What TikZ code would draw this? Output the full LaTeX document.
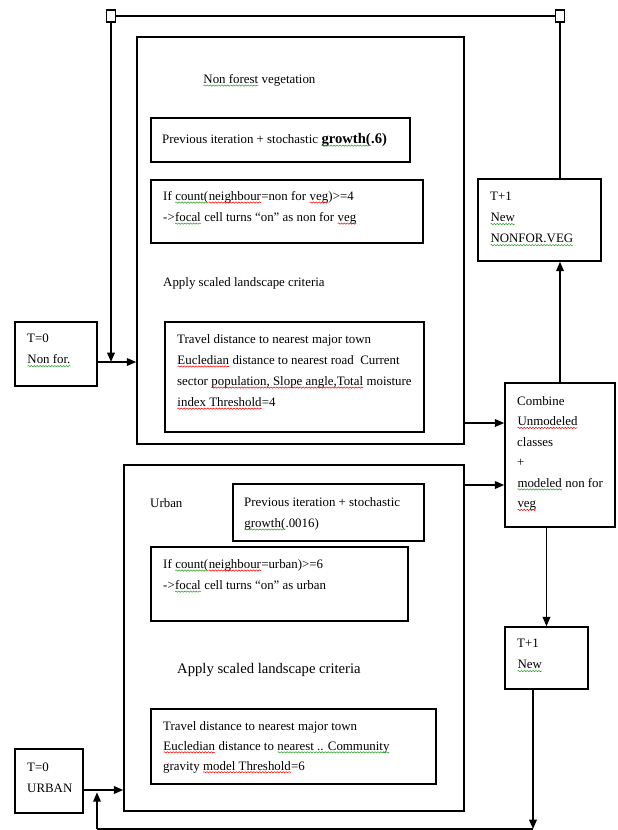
\documentclass[tikz,border=0pt]{standalone}
\usepackage{fontspec}
\setmainfont{Liberation Serif}
\usetikzlibrary{arrows.meta,fit,decorations.pathmorphing}

\definecolor{grn}{RGB}{40,160,40}

\tikzset{
  box/.style={draw, line width=1.3pt, inner sep=0pt},
  handle/.style={draw, fill=white, line width=1pt, minimum width=0.27cm, minimum height=0.36cm, inner sep=0pt},
  txt/.style={inner sep=0pt, anchor=north west, align=left, font=\fontsize{11}{18}\selectfont},
  link/.style={line width=1.3pt},
  arr/.style={line width=1.3pt, -{Triangle[length=8pt,width=6.5pt]}},
}

% spell-check squiggle under a word
\newcommand{\sqg}[2]{\tikz[baseline=(w.base)]{\node[inner sep=0pt, outer sep=0pt, anchor=base, align=none, font=] (w) {#2};
  \draw[#1, line width=0.45pt, decorate, decoration={snake, amplitude=0.55pt, segment length=2.5pt}] ([yshift=-1.9pt]w.base west) -- ([yshift=-1.9pt]w.base east);}}

\begin{document}
\begin{tikzpicture}[x=0.03cm, y=-0.03cm]
  \useasboundingbox (0,0) rectangle (618,830);

  % Non forest vegetation
  \node[box, fit={(137,37) (464,444)}] (veg) {};
  \node[txt] (vegname) at (203,74) {\sqg{grn}{Non forest} vegetation};
  \node[box, fit={(151,118) (410,162)}] (veggrow) {};
  \node[txt, anchor=west] (veggrowtxt) at (162,140) {Previous iteration + stochastic {\fontsize{12.5}{14}\selectfont\bfseries\sqg{grn}{growth(}.6)}};
  \node[box, fit={(151,180) (423,243)}] (vegrule) {};
  \node[txt] (vegruletxt) at (163,191) {If \sqg{grn}{count(}\sqg{red}{neighbour}=non for \sqg{red}{veg})>=4\\
    ->\sqg{grn}{focal} cell turns ``on'' as non for \sqg{red}{veg}};
  \node[txt] (vegapply) at (163,277) {Apply scaled landscape criteria};
  \node[box, fit={(165,322) (424,432)}] (vegcrit) {};
  \node[txt] (vegcrittxt) at (177,334) {Travel distance to nearest major town\\
    \sqg{red}{Eucledian} distance to nearest road\ \ Current\\
    sector \sqg{red}{population, Slope angle,Total} moisture\\
    \sqg{red}{index Threshold}=4};

  % Urban
  \node[box, fit={(124,465) (464,811)}] (urb) {};
  \node[txt, anchor=west] (urbname) at (150,503) {Urban};
  \node[box, fit={(233,484) (424,541)}] (urbgrow) {};
  \node[txt] (urbgrowtxt) at (244,497) {Previous iteration + stochastic\\ \sqg{grn}{growth(}.0016)};
  \node[box, fit={(151,547) (408,621)}] (urbrule) {};
  \node[txt] (urbruletxt) at (163,559) {If \sqg{grn}{count(}\sqg{red}{neighbour}=urban)>=6\\
    ->\sqg{grn}{focal} cell turns ``on'' as urban};
  \node[txt, anchor=west, font=\fontsize{12.5}{14}\selectfont] (urbapply) at (177,670) {Apply scaled landscape criteria};
  \node[box, fit={(151,709) (436,784)}] (urbcrit) {};
  \node[txt, font=\fontsize{11}{17}\selectfont] (urbcrittxt) at (163,721) {Travel distance to nearest major town\\
    \sqg{red}{Eucledian} distance to \sqg{grn}{nearest .. Community}\\
    gravity \sqg{red}{model Threshold}=6};

  % start states
  \node[box, fit={(15,322) (97,386)}] (t0veg) {};
  \node[txt] (t0vegtxt) at (27,334) {T=0\\ \sqg{grn}{Non for.}};
  \node[box, fit={(15,749) (83,813)}] (t0urb) {};
  \node[txt] (t0urbtxt) at (27,763) {T=0\\ URBAN};

  % right column
  \node[box, fit={(478,179) (601,261)}] (newveg) {};
  \node[txt] (newvegtxt) at (490,192) {T+1\\ \sqg{grn}{New}\\ \sqg{grn}{NONFOR.VEG}};
  \node[box, fit={(505,383) (615,527)}] (comb) {};
  \node[txt, font=\fontsize{11}{17.5}\selectfont] (combtxt) at (517,396) {Combine\\ \sqg{red}{Unmodeled}\\ classes\\ +\\ \sqg{grn}{modeled} non for\\ \sqg{red}{veg}};
  \node[box, fit={(505,627) (588,689)}] (newurb) {};
  \node[txt] (newurbtxt) at (517,639) {T+1\\ \sqg{grn}{New}};

  % loop handles
  \node[handle] (hl) at (111,16) {};
  \node[handle] (hr) at (560,16) {};

  \coordinate (jveg) at (111,362);
  \coordinate (jurb) at (97,790);
  \coordinate (vegout) at (464,423);
  \coordinate (urbout) at (464,485);
  \coordinate (floor) at (533,829);

  % feedback from T+1 back to T=0
  \draw[link] (hr.south) -- (hr.south |- newveg.north);
  \draw[link] (hl.east) -- (hr.west);
  \draw[arr] (hl.south) -- (jveg);
  \draw[arr] (t0veg.east |- jveg) -- (jveg -| veg.west);

  % into combine
  \draw[arr] (vegout) -- (vegout -| comb.west);
  \draw[arr] (urbout) -- (urbout -| comb.west);
  \draw[arr] (comb.north) -- (newveg.south -| comb.north);
  \draw[arr] (comb.south -| newurb.north) -- (newurb.north);

  % urban loop along the bottom
  \draw[arr] (newurb.south -| floor) -- (floor);
  \draw[link] (floor) -- (floor -| jurb);
  \draw[arr, shorten >=2pt] (floor -| jurb) -- (jurb);
  \draw[arr] (t0urb.east |- jurb) -- (jurb -| urb.west);
\end{tikzpicture}
\end{document}
